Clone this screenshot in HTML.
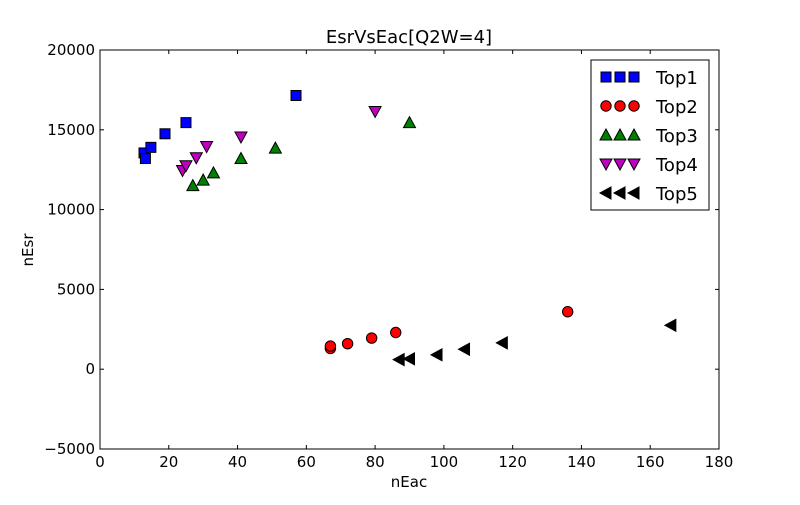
<!DOCTYPE html>
<html><head><meta charset="utf-8"><style>
body{margin:0;background:#fff;}
svg text{font-family:"DejaVu Sans","Liberation Sans",sans-serif;}
</style></head><body>
<svg id="chart" width="800" height="500" xmlns="http://www.w3.org/2000/svg">
<rect width="800" height="500" fill="#fff"/>
<text x="409" y="43" font-size="18" text-anchor="middle">EsrVsEac[Q2W=4]</text>
<g id="axes"></g>
<g id="marks"></g>
<g id="legend"></g>
</svg>
<script>
const xTicks=[0,20,40,60,80,100,120,140,160,180];
const yTicks=[-5000,0,5000,10000,15000,20000];
const seriesNames=["Top1","Top2","Top3","Top4","Top5"];
const top1X=[12.8,13.2,14.8,18.9,25,57];
const top1Y=[13550,13200,13900,14750,15450,17150];
const top2X=[67,67,72,79,86,136];
const top2Y=[1300,1450,1600,1950,2300,3600];
const top3X=[27,30,33,41,51,90];
const top3Y=[11500,11850,12300,13200,13850,15450];
const top4X=[24,25,28,31,41,80];
const top4Y=[12450,12750,13250,13950,14550,16150];
const top5X=[87,90,98,106,117,166];
const top5Y=[600,650,900,1250,1650,2750];

const L=100,R=719,T=50,B=449;
const xs=v=>L+(v-0)/180*(R-L);
const ys=v=>B-(v+5000)/25000*(B-T);
const NS="http://www.w3.org/2000/svg";
function mk(tag,attrs,parent){const e=document.createElementNS(NS,tag);for(const k in attrs)e.setAttribute(k,attrs[k]);parent.appendChild(e);return e;}
const axes=document.getElementById('axes'),marks=document.getElementById('marks'),leg=document.getElementById('legend');
const frame=mk('rect',{x:L,y:T,width:R-L,height:B-T,fill:'none',stroke:'#000','stroke-width':1},axes);


xTicks.forEach(t=>{const x=xs(t);
 mk('line',{x1:x,x2:x,y1:B,y2:B-4,stroke:'#000'},axes);
 mk('line',{x1:x,x2:x,y1:T,y2:T+4,stroke:'#000'},axes);
 const tx=mk('text',{x:x,y:B+18,'font-size':15,'text-anchor':'middle'},axes);tx.textContent=t;
 
 });
yTicks.forEach(t=>{const y=ys(t);
 mk('line',{x1:L,x2:L+4,y1:y,y2:y,stroke:'#000'},axes);
 mk('line',{x1:R,x2:R-4,y1:y,y2:y,stroke:'#000'},axes);
 const tx=mk('text',{x:L-5,y:y+5,'font-size':15,'text-anchor':'end'},axes);tx.textContent=t<0?'\u2212'+(-t):t;
 
 });
const xl=mk('text',{x:409,y:487,'font-size':15,'text-anchor':'middle'},axes);xl.textContent='nEac';


const yl=mk('text',{x:33,y:250,'font-size':15,'text-anchor':'middle',transform:'rotate(-90 33 250)'},axes);yl.textContent='nEsr';



function marker(type,x,y,parent){
 let e;
 if(type===0)e=mk('rect',{x:x-5,y:y-5,width:10,height:10,fill:'#0000ff',stroke:'#000'},parent);
 else if(type===1)e=mk('circle',{cx:x,cy:y,r:5.2,fill:'#ff0000',stroke:'#000'},parent);
 else if(type===2)e=mk('polygon',{points:`${x},${y-6} ${x-6},${y+5} ${x+6},${y+5}`,fill:'#008000',stroke:'#000'},parent);
 else if(type===3)e=mk('polygon',{points:`${x},${y+6} ${x-6},${y-5} ${x+6},${y-5}`,fill:'#bf00bf',stroke:'#000'},parent);
 else e=mk('polygon',{points:`${x-6},${y} ${x+5},${y-6} ${x+5},${y+6}`,fill:'#000',stroke:'#000'},parent);
 return e;
}
const XS=[top1X,top2X,top3X,top4X,top5X],YS=[top1Y,top2Y,top3Y,top4Y,top5Y];
XS.forEach((arr,s)=>arr.forEach((v,i)=>{const m=marker(s,xs(v),ys(YS[s][i]),marks);
 
 }));
const lb=mk('rect',{x:591,y:60,width:118,height:150,fill:'#fff',stroke:'#000'},leg);


seriesNames.forEach((n,s)=>{const y=77+s*29;const g=mk('g',{},leg);
 
 
 [606,620,634].forEach(x=>marker(s,x,y,g));
 const t=mk('text',{x:656,y:y+7,'font-size':18},g);t.textContent=n;});
</script>
</body></html>
